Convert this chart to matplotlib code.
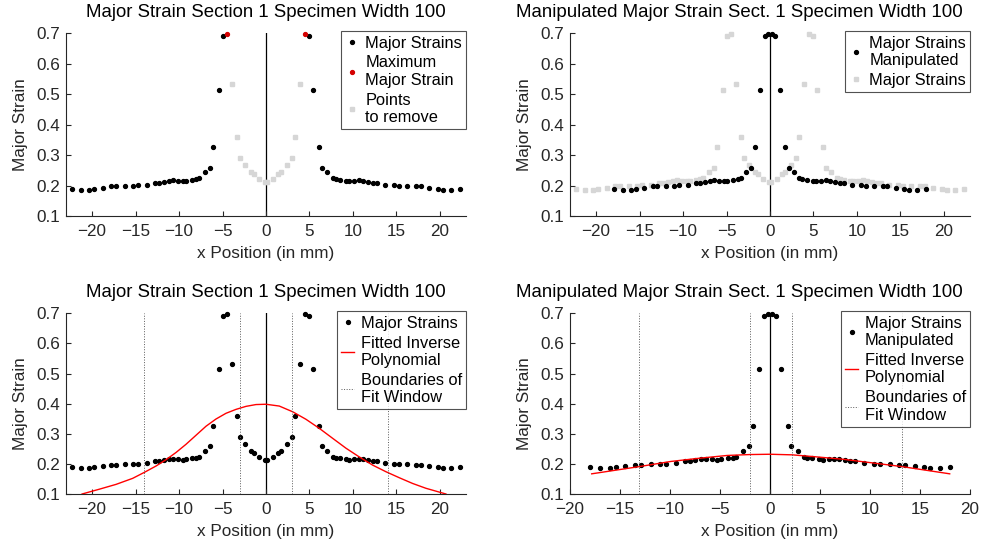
import numpy as np
import matplotlib.pyplot as plt

plt.rcParams['font.family'] = ['Liberation Sans', 'DejaVu Sans']

# left half of section 1 (right half is the mirror image)
x_left = [-22.26, -21.26, -20.31, -19.73, -18.77, -17.78, -17.24, -16.25, -15.29,
          -14.71, -13.72, -12.80, -12.34, -11.76, -11.19, -10.73, -10.15, -9.58,
          -9.20, -8.54, -8.01, -7.66, -7.05, -6.44, -6.05, -5.44, -4.90]
y_left = [0.189, 0.187, 0.186, 0.189, 0.192, 0.197, 0.197, 0.198, 0.199,
          0.201, 0.203, 0.208, 0.210, 0.213, 0.216, 0.217, 0.216, 0.214,
          0.216, 0.219, 0.221, 0.224, 0.243, 0.259, 0.326, 0.514, 0.692]
x_peak_left = [-4.52]
y_peak_left = [0.699]
x_removed_left = [-3.91, -3.33, -2.95, -2.38, -1.72, -1.34, -0.84, -0.15]
y_removed_left = [0.533, 0.358, 0.289, 0.267, 0.244, 0.237, 0.222, 0.213]

# each half is moved towards the centre by this amount (mm)
SHIFT = 4.3

# fitted inverse polynomial, original data
fit_x = [-21.15, -19.16, -17.24, -15.33, -13.98, -12.64, -11.49, -10.34, -9.20,
         -8.05, -6.90, -5.75, -4.60, -3.45, -2.30, -1.15, 0.0, 1.53, 3.07, 4.60,
         6.13, 7.66, 9.20, 10.73, 12.26, 13.79, 15.33, 16.86, 18.39, 20.69]
fit_y = [0.100, 0.116, 0.132, 0.152, 0.172, 0.193, 0.214, 0.238, 0.265,
         0.295, 0.325, 0.349, 0.368, 0.381, 0.391, 0.397, 0.398, 0.392, 0.373, 0.348,
         0.318, 0.285, 0.252, 0.223, 0.196, 0.174, 0.154, 0.135, 0.119, 0.100]
window = [-14.0, -3.0, 3.0, 14.0]

# fitted inverse polynomial, manipulated data
mfit_x = [-17.83, -13.07, -9.93, -7.0, -4.27, -2.0, 0.0, 2.23, 4.4, 7.4, 10.07, 13.2, 17.97]
mfit_y = [0.167, 0.191, 0.208, 0.219, 0.228, 0.231, 0.232, 0.230, 0.224, 0.215, 0.204, 0.191, 0.167]
mwindow = [-13.1, -2.0, 2.15, 13.15]


def mirror(xs, ys):
    xs = np.asarray(xs)
    ys = np.asarray(ys)
    return np.concatenate([xs, -xs[::-1]]), np.concatenate([ys, ys[::-1]])


major_x, major_y = mirror(x_left, y_left)
peak_x, peak_y = mirror(x_peak_left, y_peak_left)
removed_x, removed_y = mirror(x_removed_left, y_removed_left)
all_x = np.concatenate([major_x, peak_x, removed_x])
all_y = np.concatenate([major_y, peak_y, removed_y])

kept_x = np.concatenate([x_left, x_peak_left]) + SHIFT
kept_y = np.concatenate([y_left, y_peak_left])
manip_x, manip_y = mirror(kept_x, kept_y)

DARK = '#262626'
GREY = '#d6d6d6'
FS = 12.3
TFS = 13.4
W, H = 983, 549
fig = plt.figure(figsize=(W / 100, H / 100), dpi=100)


def make_axes(left, top, bottom):
    ax = fig.add_axes([left / W, 1 - bottom / H, 400 / W, (bottom - top) / H])
    for s in ['top', 'right']:
        ax.spines[s].set_visible(False)
    for s in ['left', 'bottom']:
        ax.spines[s].set_color(DARK)
        ax.spines[s].set_linewidth(0.8)
    ax.tick_params(direction='in', length=3.5, width=0.8, color=DARK,
                   labelcolor=DARK, labelsize=FS)
    ax.tick_params(axis='x', pad=6)
    ax.tick_params(axis='y', pad=4)
    ax.set_ylim(0.1, 0.7)
    ax.set_yticks(np.arange(0.1, 0.71, 0.1))
    ax.set_yticklabels(['0.1', '0.2', '0.3', '0.4', '0.5', '0.6', '0.7'])
    ax.set_xticks(np.arange(-20, 21, 5))
    ax.set_xlabel('x Position (in mm)', fontsize=FS, color=DARK, labelpad=5)
    ax.set_ylabel('Major Strain', fontsize=FS, color=DARK, labelpad=6)
    ax.axvline(0, color='k', lw=0.9, zorder=1)
    return ax


def legend(ax):
    leg = ax.legend(loc='upper right', bbox_to_anchor=(1.0, 1.01), borderaxespad=0,
                    fontsize=11.8, frameon=True, fancybox=False, handlelength=0.8,
                    handletextpad=0.4, labelspacing=0.3, borderpad=0.25)
    leg.get_frame().set_edgecolor(DARK)
    leg.get_frame().set_linewidth(0.8)
    return leg


dot = dict(ls='none', marker='o', ms=2.8, clip_on=False)
sq = dict(ls='none', marker='s', ms=3.3, color=GREY, mec=GREY, clip_on=False)
TITLE_L = 'Major Strain Section 1 Specimen Width 100'
TITLE_R = 'Manipulated Major Strain Sect. 1 Specimen Width 100'
TPAD = 12

# top left
ax1 = make_axes(66, 33.3, 216)
ax1.plot(major_x, major_y, color='k', label='Major Strains', **dot)
ax1.plot(peak_x, peak_y, color='#d40000', label='Maximum\nMajor Strain', **dot)
ax1.plot(removed_x, removed_y, label='Points\nto remove', **sq)
ax1.set_xlim(-23, 23)
ax1.set_title(TITLE_L, fontsize=TFS, pad=TPAD)
legend(ax1)

# top right
ax2 = make_axes(570, 33.3, 216)
ax2.plot(manip_x, manip_y, color='k', label='Major Strains\nManipulated', zorder=3, **dot)
ax2.plot(all_x, all_y, label='Major Strains', zorder=2, **sq)
ax2.set_xlim(-23, 23)
ax2.set_title(TITLE_R, fontsize=TFS, pad=TPAD, x=0.424)
legend(ax2)

# bottom left
ax3 = make_axes(66, 313.3, 494)
ax3.plot(all_x, all_y, color='k', label='Major Strains', **dot)
ax3.plot(fit_x, fit_y, color='red', lw=1, label='Fitted Inverse\nPolynomial')
for i, xv in enumerate(window):
    ax3.axvline(xv, color='0.35', ls=':', lw=0.7,
                label='Boundaries of\nFit Window' if i == 0 else None)
ax3.set_xlim(-23, 23)
ax3.set_title(TITLE_L, fontsize=TFS, pad=TPAD)
legend(ax3)

# bottom right
ax4 = make_axes(570, 313.3, 494)
ax4.plot(manip_x, manip_y, color='k', label='Major Strains\nManipulated', **dot)
ax4.plot(mfit_x, mfit_y, color='red', lw=1, label='Fitted Inverse\nPolynomial')
for i, xv in enumerate(mwindow):
    ax4.axvline(xv, color='0.35', ls=':', lw=0.7,
                label='Boundaries of\nFit Window' if i == 0 else None)
ax4.set_xlim(-20, 20)
ax4.set_title(TITLE_R, fontsize=TFS, pad=TPAD, x=0.424)
legend(ax4)

fig.savefig('out.png', dpi=100)
